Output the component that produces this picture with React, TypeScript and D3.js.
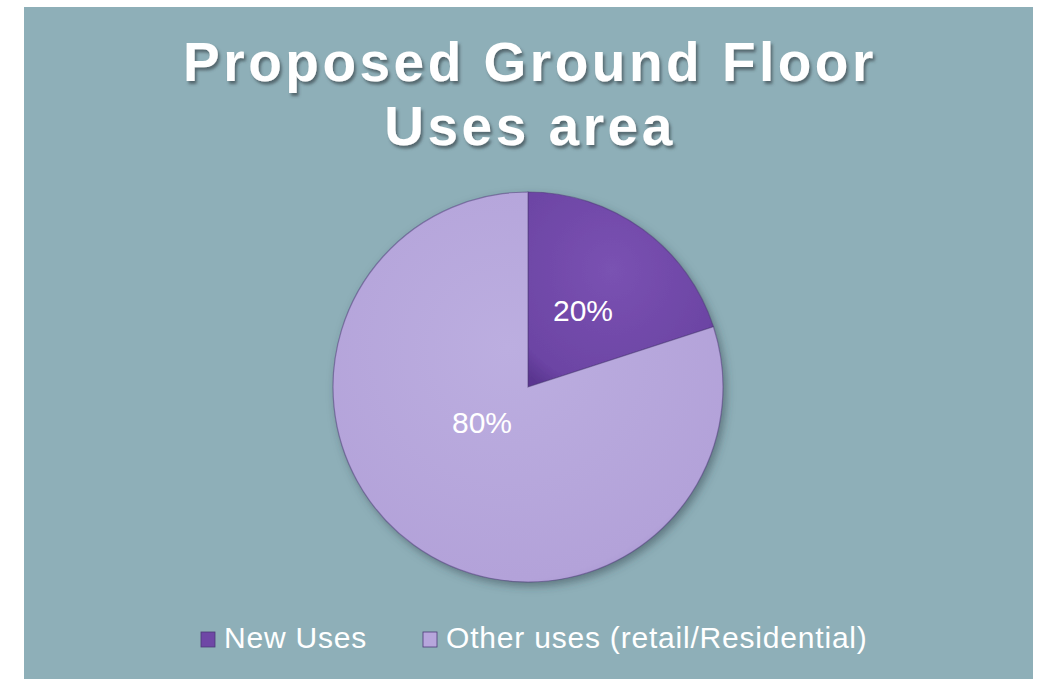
import React from "react";
import * as d3 from "d3";

const categories = ["New Uses", "Other uses (retail/Residential)"];
const values = [20, 80];
const colors = ["#6f47a6", "#b7a6dc"];
const titleLines = ["Proposed Ground Floor", "Uses area"];

const W = 1040;
const H = 679;

export default function App() {
  const cx = 528;
  const cy = 387;
  const r = 195;
  const pie = d3.pie<number>().sort(null).value((d) => d)(values);
  const arc = d3.arc<d3.PieArcDatum<number>>().innerRadius(0).outerRadius(r);
  const total = d3.sum(values);
  const labelPos = [
    [55, -66],
    [-46, 46],
  ];
  const legendX = [201, 423];
  return (
    <svg
      width={W}
      height={H}
      style={{ position: "absolute", left: 0, top: 0, display: "block" }}
      fontFamily="Liberation Sans, Arial, sans-serif"
    >
      <defs>
        <filter id="tshadow" x="-10%" y="-30%" width="120%" height="160%">
          <feDropShadow dx="2" dy="3" stdDeviation="1.5" floodColor="#3a4a50" floodOpacity="0.7" />
        </filter>
        <filter id="pshadow" x="-20%" y="-20%" width="140%" height="140%">
          <feDropShadow dx="3" dy="4" stdDeviation="4" floodColor="#2e4248" floodOpacity="0.5" />
        </filter>
        <radialGradient id="g0" cx="45%" cy="40%" r="70%">
          <stop offset="0%" stopColor="#7a52b2" />
          <stop offset="85%" stopColor="#6c44a4" />
          <stop offset="100%" stopColor="#5a3690" />
        </radialGradient>
        <radialGradient id="g1" cx="45%" cy="40%" r="70%">
          <stop offset="0%" stopColor="#bcaee0" />
          <stop offset="85%" stopColor="#b3a2d9" />
          <stop offset="100%" stopColor="#9c88c6" />
        </radialGradient>
      </defs>
      <rect x={0} y={0} width={W} height={H} fill="#ffffff" />
      <rect x={24} y={7} width={1009} height={H - 7} fill="#8eafb8" />
      {titleLines.map((t, i) => (
        <text
          key={i}
          x={530}
          y={81 + i * 64}
          textAnchor="middle"
          fontSize={55}
          fontWeight="bold"
          letterSpacing={3.5}
          fill="#ffffff"
          filter="url(#tshadow)"
        >
          {t}
        </text>
      ))}
      <g transform={`translate(${cx},${cy})`} filter="url(#pshadow)">
        {pie.map((p, i) => (
          <path
            key={i}
            d={arc(p) || ""}
            fill={`url(#g${i})`}
            stroke="#4d3a78"
            strokeOpacity={0.5}
            strokeWidth={1.2}
          />
        ))}
      </g>
      <g transform={`translate(${cx},${cy})`}>
        {pie.map((p, i) => (
          <text
            key={i}
            x={labelPos[i][0]}
            y={labelPos[i][1]}
            textAnchor="middle"
            fontSize={30}
            fill="#ffffff"
          >
            {`${Math.round((p.value / total) * 100)}%`}
          </text>
        ))}
      </g>
      {categories.map((c, i) => (
        <g key={c}>
          <rect
            x={legendX[i]}
            y={632}
            width={14}
            height={15}
            fill={colors[i]}
            stroke="#4d3a78"
            strokeWidth={0.8}
          />
          <text x={legendX[i] + 23} y={648} fontSize={30} letterSpacing={0.8} fill="#ffffff">
            {c}
          </text>
        </g>
      ))}
    </svg>
  );
}
